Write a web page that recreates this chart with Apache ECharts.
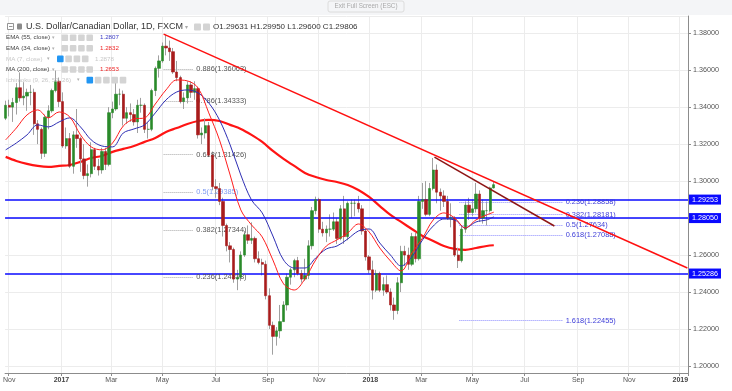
<!DOCTYPE html>
<html><head><meta charset="utf-8">
<script src="https://cdn.jsdelivr.net/npm/echarts@6/dist/echarts.min.js"></script>
<style>html,body{margin:0;padding:0;background:#fff}#c{width:732px;height:391px}</style>
</head><body><div id="c"></div>
<script>
// ---------------- DATA ----------------
const START_DATE = '2016-10-27';   // first weekday slot on the axis
const N_SLOTS = 575;               // weekday slots shown (to early Jan 2019)
const BAR_STEP = 3;                // one candle per 3 trading days
// [open, close, low, high]
const candles = [
[1.3340,1.3410,1.3330,1.3435],[1.3410,1.3400,1.3350,1.3440],[1.3400,1.3425,1.3320,1.3450],[1.3425,1.3505,1.3360,1.3530],
[1.3505,1.3450,1.3430,1.3588],[1.3450,1.3460,1.3410,1.3535],[1.3460,1.3480,1.3380,1.3500],[1.3480,1.3480,1.3410,1.3520],
[1.3480,1.3310,1.3250,1.3500],[1.3310,1.3280,1.3200,1.3330],[1.3280,1.3150,1.3120,1.3290],[1.3150,1.3345,1.3130,1.3360],
[1.3345,1.3380,1.3280,1.3410],[1.3380,1.3490,1.3370,1.3500],[1.3490,1.3540,1.3480,1.3598],[1.3540,1.3430,1.3400,1.3560],
[1.3430,1.3190,1.3180,1.3480],[1.3190,1.3230,1.3175,1.3290],[1.3230,1.3080,1.3070,1.3260],[1.3080,1.3250,1.3040,1.3270],
[1.3250,1.3230,1.3180,1.3390],[1.3230,1.3120,1.3050,1.3240],[1.3120,1.3030,1.3010,1.3200],[1.3030,1.3040,1.2970,1.3090],
[1.3040,1.3170,1.3020,1.3210],[1.3170,1.3080,1.3060,1.3180],[1.3080,1.3060,1.3030,1.3120],[1.3060,1.3160,1.3040,1.3180],
[1.3160,1.3090,1.3060,1.3180],[1.3090,1.3370,1.3080,1.3400],[1.3370,1.3390,1.3340,1.3430],[1.3390,1.3470,1.3380,1.3535],
[1.3470,1.3470,1.3410,1.3500],[1.3470,1.3340,1.3300,1.3490],[1.3340,1.3370,1.3310,1.3400],[1.3370,1.3360,1.3320,1.3420],
[1.3360,1.3320,1.3300,1.3390],[1.3320,1.3410,1.3260,1.3440],[1.3410,1.3410,1.3370,1.3450],[1.3410,1.3280,1.3260,1.3420],
[1.3280,1.3280,1.3230,1.3320],[1.3280,1.3490,1.3270,1.3500],[1.3490,1.3610,1.3460,1.3620],[1.3610,1.3650,1.3560,1.3680],
[1.3650,1.3730,1.3640,1.3750],[1.3730,1.3720,1.3680,1.3793],[1.3720,1.3700,1.3650,1.3760],[1.3700,1.3590,1.3580,1.3720],
[1.3590,1.3560,1.3540,1.3650],[1.3560,1.3430,1.3420,1.3570],[1.3430,1.3450,1.3390,1.3480],[1.3450,1.3520,1.3420,1.3540],
[1.3520,1.3480,1.3450,1.3540],[1.3480,1.3500,1.3440,1.3540],[1.3500,1.3250,1.3230,1.3510],[1.3250,1.3260,1.3200,1.3290],
[1.3260,1.3300,1.3230,1.3340],[1.3300,1.3140,1.3130,1.3320],[1.3140,1.2970,1.2950,1.3160],[1.2970,1.2960,1.2910,1.3010],
[1.2960,1.2890,1.2870,1.2990],[1.2890,1.2760,1.2700,1.2910],[1.2760,1.2650,1.2620,1.2770],[1.2650,1.2630,1.2560,1.2670],
[1.2630,1.2470,1.2450,1.2640],[1.2470,1.2480,1.2410,1.2520],[1.2480,1.2600,1.2460,1.2620],[1.2600,1.2710,1.2590,1.2730],
[1.2710,1.2680,1.2660,1.2760],[1.2680,1.2690,1.2660,1.2777],[1.2690,1.2580,1.2560,1.2700],[1.2580,1.2560,1.2550,1.2620],
[1.2560,1.2550,1.2490,1.2580],[1.2550,1.2380,1.2360,1.2570],[1.2380,1.2220,1.2200,1.2420],[1.2220,1.2160,1.2061,1.2240],
[1.2160,1.2190,1.2110,1.2210],[1.2190,1.2240,1.2150,1.2330],[1.2240,1.2330,1.2240,1.2350],[1.2330,1.2480,1.2300,1.2500],
[1.2480,1.2520,1.2440,1.2530],[1.2520,1.2570,1.2480,1.2580],[1.2570,1.2500,1.2490,1.2590],[1.2500,1.2470,1.2450,1.2520],
[1.2470,1.2490,1.2460,1.2580],[1.2490,1.2650,1.2470,1.2680],[1.2650,1.2840,1.2630,1.2860],[1.2840,1.2900,1.2820,1.2916],
[1.2900,1.2740,1.2720,1.2910],[1.2740,1.2720,1.2700,1.2780],[1.2720,1.2740,1.2670,1.2760],[1.2740,1.2740,1.2700,1.2820],
[1.2740,1.2780,1.2730,1.2830],[1.2780,1.2690,1.2660,1.2800],[1.2690,1.2850,1.2680,1.2870],[1.2850,1.2700,1.2660,1.2920],
[1.2700,1.2880,1.2680,1.2890],[1.2880,1.2880,1.2800,1.2900],[1.2880,1.2880,1.2810,1.2900],[1.2880,1.2850,1.2830,1.2920],
[1.2850,1.2730,1.2710,1.2870],[1.2730,1.2590,1.2570,1.2740],[1.2590,1.2520,1.2500,1.2600],[1.2520,1.2410,1.2360,1.2570],
[1.2410,1.2500,1.2400,1.2520],[1.2500,1.2410,1.2400,1.2510],[1.2410,1.2440,1.2380,1.2480],[1.2440,1.2400,1.2390,1.2490],
[1.2400,1.2330,1.2300,1.2420],[1.2330,1.2300,1.2250,1.2370],[1.2300,1.2450,1.2280,1.2480],[1.2450,1.2620,1.2400,1.2650],
[1.2620,1.2600,1.2540,1.2650],[1.2600,1.2550,1.2520,1.2640],[1.2550,1.2700,1.2540,1.2720],[1.2700,1.2580,1.2560,1.2720],
[1.2580,1.2890,1.2570,1.2920],[1.2890,1.2900,1.2850,1.2990],[1.2900,1.2820,1.2810,1.3000],[1.2820,1.2960,1.2810,1.2990],
[1.2960,1.3060,1.2950,1.3125],[1.3060,1.2940,1.2880,1.3090],[1.2940,1.2920,1.2840,1.2960],[1.2920,1.2890,1.2860,1.2950],
[1.2890,1.2800,1.2790,1.2920],[1.2800,1.2800,1.2750,1.2880],[1.2800,1.2600,1.2590,1.2810],[1.2600,1.2570,1.2530,1.2640],
[1.2570,1.2740,1.2560,1.2760],[1.2740,1.2870,1.2720,1.2890],[1.2870,1.2830,1.2790,1.2910],[1.2830,1.2850,1.2810,1.2900],
[1.2850,1.2930,1.2830,1.2990],[1.2930,1.2800,1.2780,1.2950],[1.2800,1.2840,1.2770,1.2900],[1.2840,1.2840,1.2760,1.2890],
[1.2840,1.2963,1.2830,1.2970],[1.29631,1.29806,1.29600,1.29950]
];
// indicator values read every 9 trading days (slot 0, 9, ... 405) plus the last bar (slot 411)
const MA_STEP = 9;
const MA_LAST_SLOT = 411;
const ema34 = [1.3223,1.3287,1.3358,1.3385,1.3342,1.3374,1.3347,1.3250,1.3185,1.3169,1.3206,1.3298,1.3336,1.3342,1.3417,1.3493,1.3547,1.3542,1.3504,1.3369,1.3223,1.3033,1.2844,1.2763,1.2698,1.2573,1.2444,1.2411,1.2471,1.2573,1.2649,1.2682,1.2719,1.2768,1.2725,1.2638,1.2568,1.2514,1.2611,1.2692,1.2790,1.2828,1.2801,1.2747,1.2790,1.2817,1.2832];
const ema55 = [1.3169,1.3206,1.3250,1.3304,1.3293,1.3320,1.3342,1.3293,1.3223,1.3190,1.3185,1.3260,1.3282,1.3304,1.3369,1.3439,1.3482,1.3493,1.3477,1.3423,1.3331,1.3196,1.3033,1.2898,1.2828,1.2703,1.2573,1.2530,1.2530,1.2584,1.2633,1.2649,1.2687,1.2730,1.2741,1.2665,1.2600,1.2541,1.2590,1.2682,1.2757,1.2795,1.2790,1.2747,1.2779,1.2790,1.2807];
const ma200 = [1.3131,1.3109,1.3093,1.3082,1.3077,1.3082,1.3087,1.3104,1.3125,1.3136,1.3158,1.3174,1.3190,1.3212,1.3233,1.3266,1.3287,1.3309,1.3325,1.3331,1.3325,1.3304,1.3282,1.3250,1.3212,1.3163,1.3120,1.3082,1.3044,1.3022,1.3006,1.2995,1.2979,1.2952,1.2914,1.2865,1.2817,1.2779,1.2741,1.2703,1.2676,1.2649,1.2633,1.2628,1.2638,1.2649,1.2653];
const hLevels = [1.29253, 1.28050, 1.25286];
const lastPrice = 1.29806;
// trend lines: [slot, price]
const trendMain = [[133, 1.3795], [574, 1.2530]];
const trendSecond = [[361, 1.3130], [462, 1.2757]];
// fibonacci levels: [ratio text, price]
const fibLeftSpan = [133, 158];
const fibLeft = [['0.886',1.36063],['0.786',1.34333],['0.618',1.31426],['0.5',1.29385],['0.382',1.27344],['0.236',1.24818]];
const fibLeftTextColors = ['#555555','#555555','#555555','#7f9bf2','#555555','#555555'];
const fibRightSpan = [382, 469];
const fibRight = [['0.236',1.28858],['0.382',1.28181],['0.5',1.27634],['0.618',1.27088],['1.618',1.22455]];
const ohlcText = ['O1.29631','H1.29950','L1.29600','C1.29806'];
const legendRows = [
  {name:'EMA (55, close)', value:'1.2807', color:'#3a3ac4', faded:false},
  {name:'EMA (34, close)', value:'1.2832', color:'#ee2424', faded:false},
  {name:'MA (7, close)', value:'1.2878', color:'#c8c8c8', faded:true},
  {name:'MA (200, close)', value:'1.2653', color:'#ee2424', faded:false},
  {name:'Ichimoku (9, 26, 52, 26)', value:'', color:'#c8c8c8', faded:true}
];
const MONTHS = ['Jan','Feb','Mar','Apr','May','Jun','Jul','Aug','Sep','Oct','Nov','Dec'];

// ---------------- AXIS SLOTS ----------------
const slots = [], slotLabel = [];
(function(){
  const d = new Date(START_DATE + 'T00:00:00Z');
  let prevMonth = -1;
  while (slots.length < N_SLOTS) {
    const wd = d.getUTCDay();
    if (wd !== 0 && wd !== 6) {
      const m = d.getUTCMonth();
      slots.push(d.toISOString().slice(0,10));
      let lab = '';
      if (m !== prevMonth && slots.length > 1 && m % 2 === 0) lab = m === 0 ? '{y|' + d.getUTCFullYear() + '}' : MONTHS[m];
      slotLabel.push(lab);
      prevMonth = m;
    }
    d.setUTCDate(d.getUTCDate() + 1);
  }
})();
const showSlot = (i) => slotLabel[i] !== '';

const FONT = 'Liberation Sans, Arial, sans-serif';
const wickData = candles.map((c, j) => [j * BAR_STEP, c[0], c[1], c[2], c[3]]);
const bodyData = candles.map((c, j) => [j * BAR_STEP, c[0], c[1], Math.min(c[0], c[1]), Math.max(c[0], c[1])]);
const maPts = (arr) => arr.map((v, i) => [i < arr.length - 1 ? i * MA_STEP : MA_LAST_SLOT, v]);

function fibMark(levels, span, lineColor, textColors) {
  return {
    symbol: ['none','none'], silent: true, animation: false,
    data: levels.map((l, i) => [
      {coord: [span[0], l[1]], lineStyle: {color: lineColor, type: 'dotted', width: 1}},
      {coord: [span[1], l[1]], label: {show: true, position: 'end', formatter: l[0] + '(' + l[1].toFixed(5) + ')',
        color: textColors[i], fontSize: 7.4, fontFamily: FONT, distance: 3, padding: [8, 0, 0, 0]}}
    ])
  };
}

// ---------------- GRAPHICS (header legend) ----------------
const G = [];
function txt(x, y, s, size, color, extra) { G.push({type:'text', x, y, z: 50, style: Object.assign({text: s, fontSize: size, fill: color, fontFamily: FONT, verticalAlign: 'middle', textAlign: 'left'}, extra || {})}); }
function box(x, y, w, h, fill) { G.push({type:'rect', z: 50, shape: {x, y, width: w, height: h, r: 1}, style: {fill}}); }
G.push({type:'rect', z: 40, shape:{x:0, y:0, width:732, height:15}, style:{fill:'#f4f5f7'}});
G.push({type:'rect', z: 41, shape:{x:328, y:1, width:76, height:11, r:2}, style:{fill:'#f4f5f7', stroke:'#dcdcdc', lineWidth:1}});
txt(366, 6.5, 'Exit Full Screen (ESC)', 6.3, '#a9a9a9', {textAlign:'center'});
G.push({type:'rect', z:50, shape:{x:7.5, y:23.5, width:6, height:6}, style:{fill:'#fff', stroke:'#7a7a7a', lineWidth:0.8}});
G.push({type:'line', z:51, shape:{x1:9, y1:26.5, x2:12.5, y2:26.5}, style:{stroke:'#7a7a7a', lineWidth:0.8}});
box(17, 23.5, 5, 6, '#8a8a8a');
txt(26, 27, 'U.S. Dollar/Canadian Dollar, 1D, FXCM', 9, '#333333');
txt(185, 27, '▾', 6, '#aaaaaa');
box(194, 23.5, 7, 7, '#d4d4d4'); box(203, 23.5, 7, 7, '#d4d4d4');
txt(213, 27, ohlcText.join(' '), 8, '#333333');
legendRows.forEach((r, i) => {
  const y = 37.7 + i * 10.6;
  const tc = r.faded ? '#c8c8c8' : '#444444';
  txt(6, y, r.name, 6.2, tc);
  const ex = i === 4 ? 77 : (r.faded ? 47 : 52);
  txt(ex, y, '▾', 5, '#b0b0b0');
  const bx = i === 4 ? 86.5 : (r.faded ? 57 : 61.5);
  const nb = i === 4 ? 5 : 4;
  for (let b = 0; b < nb; b++) box(bx + b * 8.3, y - 3.3, 6.6, 6.6, (r.faded && b === 0) ? '#2196f3' : '#d4d4d4');
  if (r.value) txt(r.faded ? 95 : 100, y, r.value, 6.2, r.color);
});
G.push({type:'rect', z: 60, shape:{x:689, y:375, width:43, height:16}, style:{fill:'#fff'}});

// ---------------- CHART ----------------
const chart = echarts.init(document.getElementById('c'), null, {renderer: 'canvas'});
chart.setOption({
  animation: false,
  backgroundColor: '#ffffff',
  grid: {left: 0, right: 44, top: 16, bottom: 18, containLabel: false},
  xAxis: {
    type: 'category', data: slots, boundaryGap: true,
    axisLine: {show: true, lineStyle: {color: '#8c8c8c', width: 1}},
    axisTick: {show: true, interval: showSlot, length: 3, lineStyle: {color: '#8c8c8c'}},
    axisLabel: {interval: showSlot, formatter: (v, i) => slotLabel[i], fontSize: 7, color: '#555', fontFamily: FONT, margin: 4,
      rich: {y: {fontSize: 7, fontWeight: 'bold', color: '#444', fontFamily: FONT}}},
    splitLine: {show: true, interval: showSlot, lineStyle: {color: '#ececec', width: 1}}
  },
  yAxis: {
    type: 'value', position: 'right', min: 1.1962, max: 1.3893, splitNumber: 10, scale: true,
    axisLine: {show: true, lineStyle: {color: '#8c8c8c', width: 1}},
    axisTick: {show: true, length: 3, lineStyle: {color: '#8c8c8c'}},
    axisLabel: {formatter: v => v.toFixed(5), fontSize: 7.2, color: '#555', fontFamily: FONT, margin: 5, showMinLabel: false, showMaxLabel: false},
    splitLine: {show: true, lineStyle: {color: '#ececec', width: 1}}
  },
  series: [
    {type: 'line', data: maPts(ma200), smooth: 0.35, symbol: 'none', lineStyle: {color: '#ff1414', width: 2.2}, z: 3},
    {type: 'candlestick', data: wickData, encode: {x: 0, y: [1, 2, 3, 4]}, barWidth: 1, z: 4,
      itemStyle: {color: '#a0a0a0', color0: '#a0a0a0', borderColor: '#a0a0a0', borderColor0: '#a0a0a0', borderWidth: 1},
      markLine: {
        symbol: ['none','none'], silent: true, animation: false,
        data: hLevels.map(v => ({yAxis: v, lineStyle: {color: '#0a0aff', width: 1.5, type: 'solid'},
          label: {show: true, position: 'end', formatter: v.toFixed(5), color: '#fff', backgroundColor: '#0a0aff', padding: [2, 3, 1, 3], fontSize: 7.2, fontFamily: FONT, distance: 1}}))
          .concat([{yAxis: lastPrice, lineStyle: {opacity: 0},
          label: {show: true, position: 'end', formatter: lastPrice.toFixed(5), color: '#fff', backgroundColor: '#2f7d20', padding: [2, 3, 1, 3], fontSize: 7.2, fontFamily: FONT, distance: 1}}])
      }},
    {type: 'candlestick', data: bodyData, encode: {x: 0, y: [1, 2, 3, 4]}, barWidth: 2.8, z: 5,
      itemStyle: {color: '#2a8a2a', color0: '#a81c1c', borderColor: '#2a8a2a', borderColor0: '#a81c1c', borderWidth: 0.6}},
    {type: 'line', data: maPts(ema55), smooth: 0.35, symbol: 'none', lineStyle: {color: '#2e2eb4', width: 1}, z: 6},
    {type: 'line', data: maPts(ema34), smooth: 0.35, symbol: 'none', lineStyle: {color: '#ff1e1e', width: 1}, z: 6},
    {type: 'line', data: trendMain, symbol: 'none', lineStyle: {color: '#ff1010', width: 1.5}, z: 7},
    {type: 'line', data: trendSecond, symbol: 'none', lineStyle: {color: '#8e1616', width: 1.5}, z: 7},
    {type: 'line', data: [], z: 8, markLine: fibMark(fibLeft, fibLeftSpan, '#a8a8a8', fibLeftTextColors)},
    {type: 'line', data: [], z: 8, markLine: fibMark(fibRight, fibRightSpan, '#8c8cff', fibRight.map(() => '#3d3dd8'))}
  ],
  graphic: {elements: G}
});
</script></body></html>
